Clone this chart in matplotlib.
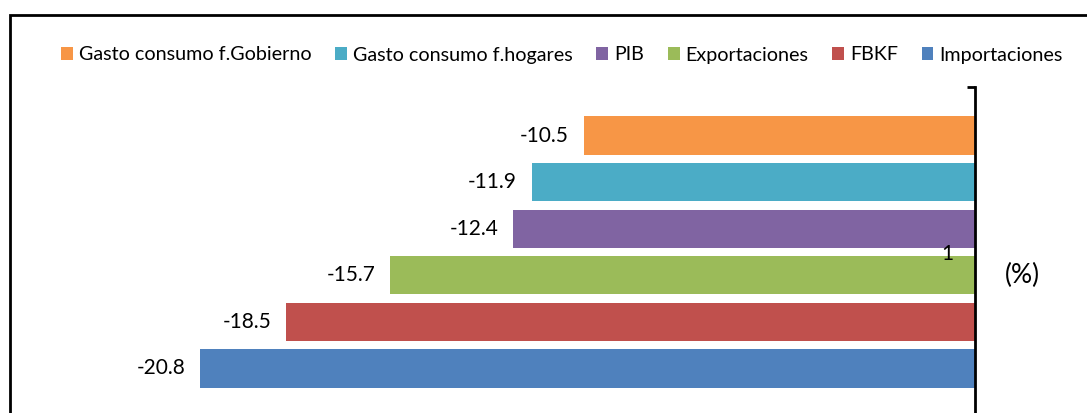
import numpy as np
import matplotlib.pyplot as plt
from matplotlib.patches import Rectangle

plt.rcParams['font.family'] = ['Lato', 'DejaVu Sans']

# datos (%)
series = ["Gasto consumo f.Gobierno", "Gasto consumo f.hogares", "PIB",
          "Exportaciones", "FBKF", "Importaciones"]
valores = [-10.5, -11.9, -12.4, -15.7, -18.5, -20.8]
colores = ["#F79646", "#4BACC6", "#8064A2", "#9BBB59", "#C0504D", "#4F81BD"]
categorias = ["1"]

fig = plt.figure(figsize=(10.87, 4.13), dpi=100)
W, H = 1087, 413
# eje: derecha en x=975, arriba y=87, abajo un poco fuera de la imagen
ax = fig.add_axes([44 / W, 1 - 417 / H, (975 - 44) / W, (417 - 87) / H])

n = len(series)
paso = 0.1412
alto = 0.116
for i, (nom, v, c) in enumerate(zip(series, valores, colores)):
    y = (n - 1) / 2 * paso - i * paso
    ax.barh(y, v, height=alto, color=c, label=nom, zorder=2)
    ax.text(v - 0.4, y, f"{v:.1f}", ha="right", va="center", fontsize=15, color="#000000")

ax.set_xlim(-25, 0)
ax.set_ylim(-0.5, 0.5)
ax.set_xticks([])
for s in ["left", "top", "bottom"]:
    ax.spines[s].set_visible(False)
ax.spines["right"].set_linewidth(2)

ax.yaxis.tick_right()
ax.set_yticks([0])
ax.set_yticklabels(categorias, fontsize=15)
ax.tick_params(axis="y", length=0, pad=-24)
ax.yaxis.set_zorder(5)
ax.set_yticks([0.5], minor=True)
ax.tick_params(axis="y", which="minor", direction="in", length=6, width=2)

fig.text(1022 / W, 1 - 275 / H, "(%)", ha="center", va="center", fontsize=19)

fig.legend(loc="center", bbox_to_anchor=(562 / W, 1 - 55 / H), ncol=6, frameon=False,
           fontsize=14.2, handlelength=0.6, handleheight=0.6, handletextpad=0.3,
           columnspacing=1.2)

fig.add_artist(Rectangle((10 / W, -0.2), 1.2, 1.2 - 15 / H, transform=fig.transFigure,
                         fill=False, edgecolor="black", linewidth=2))

fig.savefig("out.png", dpi=100)
